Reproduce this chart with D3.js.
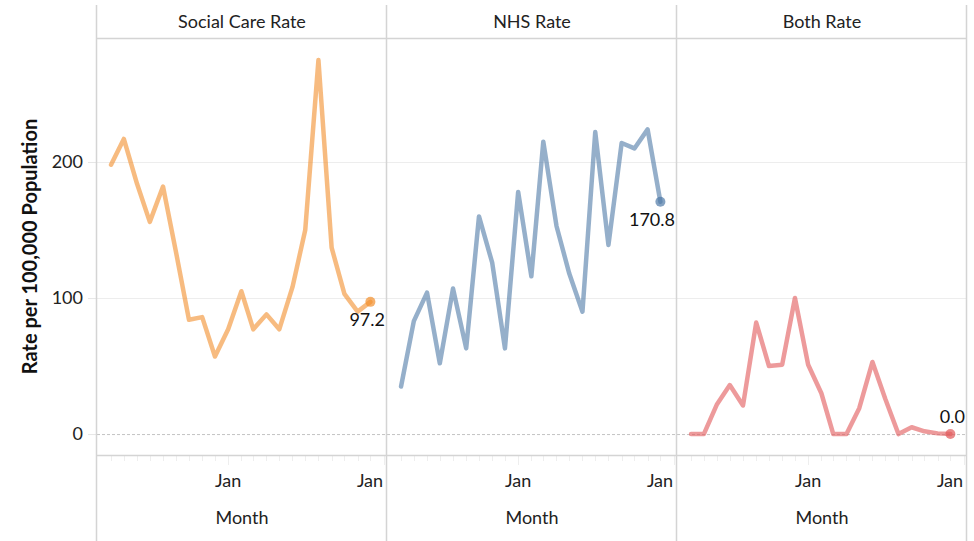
<!DOCTYPE html>
<html>
<head>
<meta charset="utf-8">
<script src="https://cdn.jsdelivr.net/npm/d3@7"></script>
<style>
  body { margin: 0; background: #fff; }
  text { font-family: Lato, "Open Sans", sans-serif; fill: #222; }
</style>
</head>
<body>
<svg id="chart"></svg>
<script>
// data (monthly, Apr 2017 - Dec 2018)
const panels = ["Social Care Rate", "NHS Rate", "Both Rate"];
const months = d3.timeMonths(new Date(2017, 3, 1), new Date(2019, 0, 1));
const socialCare = [198, 217, 184, 156, 182, 133, 84, 86, 57, 77, 105, 77, 88, 77, 108, 150, 275, 137, 103, 90, 97.2];
const nhs = [35, 83, 104, 52, 107, 63, 160, 126, 63, 178, 116, 215, 153, 118, 90, 222, 139, 214, 210, 224, 170.8];
const both = [0, 0, 22, 36, 21, 82, 50, 51, 100, 51, 30, 0, 0, 19, 53, 26, 0, 5, 2, 0.5, 0];
const yTicks = [0, 100, 200];
const colors = ["#F28E2B", "#4E79A7", "#E15759"];
const series = [socialCare, nhs, both];

const width = 974, height = 541;
const plotLeft = 97, panelW = 290, plotTop = 38, plotBottom = 455;

const svg = d3.select("#chart").attr("width", width).attr("height", height);

const y = d3.scaleLinear().domain([-15.4, 291.2]).range([plotBottom, plotTop]);
const x = d3.scaleTime()
    .domain([new Date(2017, 1, 27), new Date(2019, 0, 9)])
    .range([0, panelW]);

// gridlines
svg.append("g").selectAll("line")
    .data(yTicks.filter(d => d !== 0))
    .enter().append("line")
    .attr("x1", plotLeft).attr("x2", plotLeft + panelW * 3)
    .attr("y1", d => y(d) + 0.5).attr("y2", d => y(d) + 0.5)
    .attr("stroke", "#ededed").attr("stroke-width", 1);

// zero line
svg.append("line")
    .attr("x1", plotLeft).attr("x2", plotLeft + panelW * 3)
    .attr("y1", y(0) + 0.5).attr("y2", y(0) + 0.5)
    .attr("stroke", "#c4c4c4").attr("stroke-dasharray", "3,2");

// y axis labels + ticks
const yAxis = svg.append("g");
yAxis.selectAll("text")
    .data(yTicks)
    .enter().append("text")
    .attr("x", 83).attr("y", d => y(d))
    .attr("dy", "0.35em")
    .attr("text-anchor", "end")
    .attr("font-size", 18)
    .text(d => d);
yAxis.selectAll("line")
    .data(yTicks)
    .enter().append("line")
    .attr("x1", 88).attr("x2", 96)
    .attr("y1", d => y(d) + 0.5).attr("y2", d => y(d) + 0.5)
    .attr("stroke", "#e6e6e6");

svg.append("text")
    .attr("transform", `translate(37,${(plotTop + plotBottom) / 2}) rotate(-90)`)
    .attr("text-anchor", "middle")
    .attr("font-size", 20)
    .attr("font-weight", "bold")
    .style("fill", "#111")
    .text("Rate per 100,000 Population");

const line = d3.line()
    .x((d, i) => x(months[i]))
    .y(d => y(d));

panels.forEach((name, p) => {
    const g = svg.append("g").attr("transform", `translate(${plotLeft + p * panelW},0)`);

    g.append("text")
        .attr("x", panelW / 2).attr("y", 22)
        .attr("dy", "0.35em")
        .attr("text-anchor", "middle")
        .attr("font-size", 18)
        .text(name);

    // month ticks
    const ticks = d3.timeMonths(new Date(2017, 3, 1), new Date(2019, 0, 2));
    g.selectAll(".tick")
        .data(ticks)
        .enter().append("line")
        .attr("x1", d => Math.round(x(d)) + 0.5).attr("x2", d => Math.round(x(d)) + 0.5)
        .attr("y1", plotBottom + 1)
        .attr("y2", d => d.getMonth() === 0 ? plotBottom + 10 : plotBottom + 6)
        .attr("stroke", "#eeeeee");

    g.selectAll(".jan")
        .data(ticks.filter(d => d.getMonth() === 0))
        .enter().append("text")
        .attr("x", d => Math.min(x(d), panelW - 17))
        .attr("y", 481).attr("dy", "0.35em")
        .attr("text-anchor", "middle")
        .attr("font-size", 18)
        .text("Jan");

    g.append("text")
        .attr("x", panelW / 2).attr("y", 518).attr("dy", "0.35em")
        .attr("text-anchor", "middle")
        .attr("font-size", 18)
        .text("Month");

    const data = series[p];
    g.append("path")
        .datum(data)
        .attr("d", line)
        .attr("fill", "none")
        .attr("stroke", colors[p])
        .attr("stroke-opacity", 0.6)
        .attr("stroke-width", 4.5)
        .attr("stroke-linejoin", "round")
        .attr("stroke-linecap", "round");

    const last = data.length - 1;
    const lx = x(months[last]), ly = y(data[last]);
    g.append("circle")
        .attr("cx", lx).attr("cy", ly).attr("r", 5)
        .attr("fill", colors[p]).attr("fill-opacity", 0.7);

    // label below the end point, or above it when it sits on the floor
    const below = data[last] > 20;
    g.append("text")
        .attr("x", panelW - 2)
        .attr("y", below ? ly + 18 : ly - 17)
        .attr("dy", "0.35em")
        .attr("text-anchor", "end")
        .attr("font-size", 18)
        .style("fill", "#111")
        .text(d3.format(".1f")(data[last]));
});

// panel frame
svg.append("g").selectAll("line")
    .data(d3.range(4))
    .enter().append("line")
    .attr("x1", i => plotLeft + i * panelW - 0.5).attr("x2", i => plotLeft + i * panelW - 0.5)
    .attr("y1", 5).attr("y2", height)
    .attr("stroke", "#d4d4d4").attr("stroke-width", 1.5);

[plotTop, plotBottom].forEach(v => {
    svg.append("line")
        .attr("x1", plotLeft - 1).attr("x2", plotLeft + panelW * 3)
        .attr("y1", v + 0.5).attr("y2", v + 0.5)
        .attr("stroke", "#d4d4d4").attr("stroke-width", 1.5);
});
</script>
</body>
</html>
